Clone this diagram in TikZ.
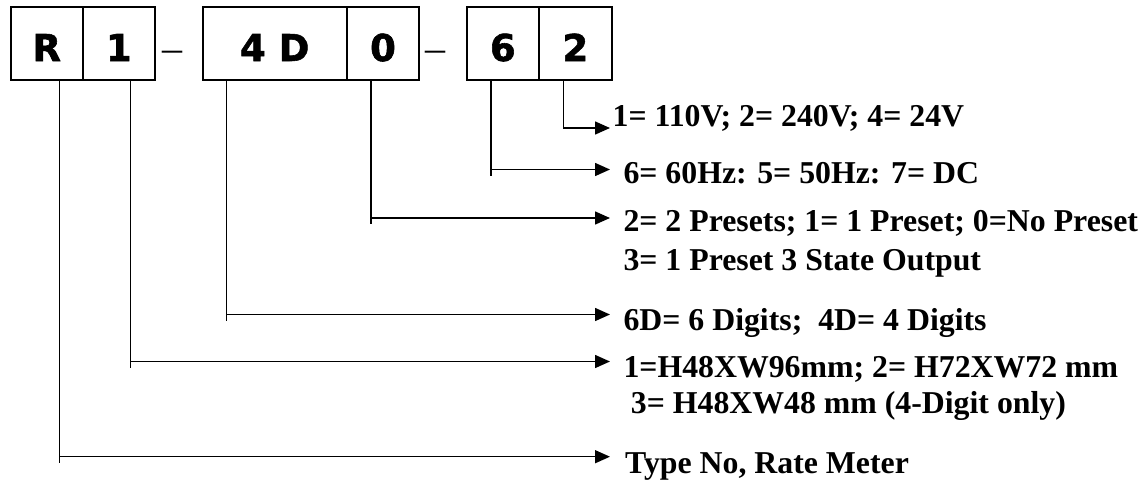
\documentclass[tikz,border=0pt]{standalone}
\usepackage{fontspec}
\setmainfont{Liberation Serif}
\newfontfamily\lblfont{Liberation Serif}
\newfontfamily\boxfont[FakeBold=1.6]{DejaVu Sans}
\usetikzlibrary{arrows.meta,calc}
\begin{document}
\begin{tikzpicture}[x=1pt,y=-1pt]
\tikzset{
  codebox/.style={draw, line width=2pt, inner sep=0pt, minimum height=72.2pt,
    text height=35.2pt, text depth=0pt, font=\boxfont\bfseries\fontsize{37}{40}\selectfont},
  lbl/.style={anchor=base west, inner sep=0pt, font=\lblfont\bfseries\fontsize{31.8}{36}\selectfont},
  lead/.style={line width=1.5pt},
  tip/.style={lead, -{Triangle[length=15pt,width=13pt]}},
  sepdash/.style={anchor=base, inner sep=0pt, font=\fontsize{40}{44}\selectfont}
}
\useasboundingbox (0,0) rectangle (1146,480);
% code boxes
\node[codebox, minimum width=72pt]   (R)     at (46.7,43.4)   {R};
\node[codebox, minimum width=72.3pt] (one)   at (118.85,43.4) {1};
\node[codebox, minimum width=144pt]  (fourD) at (274.7,43.4)  {4 D};
\node[codebox, minimum width=72.6pt] (zero)  at (383,43.4)    {0};
\node[codebox, minimum width=72.3pt] (six)   at (502.85,43.4) {6};
\node[codebox, minimum width=72.7pt] (two)   at (575.35,43.4) {2};
% separators
\node[sepdash] (d1) at (172.7,61) {–};
\node[sepdash] (d2) at (435,61) {–};
% labels
\node[lbl] (L1) at (612.5,126)   {1= 110V; 2= 240V; 4= 24V};
\node[lbl] (L2) at (623.3,183.5) {6= 60Hz: 5= 50Hz: 7= DC};
\node[lbl] (L3) at (623.3,231.7) {2= 2 Presets; 1= 1 Preset; 0=No Preset};
\node[lbl] (L4) at (623.3,270)   {3= 1 Preset 3 State Output};
\node[lbl] (L5) at (623.3,330.7) {6D= 6 Digits;\ \ 4D= 4 Digits};
\node[lbl] (L6) at (623.3,377)   {1=H48XW96mm; 2= H72XW72 mm};
\node[lbl] (L7) at (630.7,413.5) {3= H48XW48 mm (4-Digit only)};
\node[lbl] (L8) at (625,473)     {Type No, Rate Meter};
% arrow tips
\coordinate (t1) at (610,128);
\coordinate (t2) at (610,169.5);
\coordinate (t3) at (610,218);
\coordinate (t5) at (610,314.5);
\coordinate (t6) at (610,361.5);
\coordinate (t8) at (610,456.7);
% feet
\coordinate (fR) at ([xshift=12.8pt]R.south);
\coordinate (f1) at ([xshift=11.85pt]one.south);
\coordinate (f4) at ([xshift=25pt]fourD.south west);
\coordinate (f0) at ([xshift=-12pt]zero.south);
\coordinate (f6) at ([xshift=-11.85pt]six.south);
\coordinate (f2) at ([xshift=-12pt]two.south);
% connectors
\draw[tip] (f2) |- (t1);
\draw[lead] (f6) -- ($(f6 |- t2)+(0,6)$);
\draw[tip] (f6 |- t2) -- (t2);
\draw[lead] (f0) -- ($(f0 |- t3)+(0,6)$);
\draw[tip] (f0 |- t3) -- (t3);
\draw[lead] (f4) -- ($(f4 |- t5)+(0,6)$);
\draw[tip] (f4 |- t5) -- (t5);
\draw[lead] (f1) -- ($(f1 |- t6)+(0,6)$);
\draw[tip] (f1 |- t6) -- (t6);
\draw[lead] (fR) -- ($(fR |- t8)+(0,6)$);
\draw[tip] (fR |- t8) -- (t8);
\end{tikzpicture}
\end{document}
